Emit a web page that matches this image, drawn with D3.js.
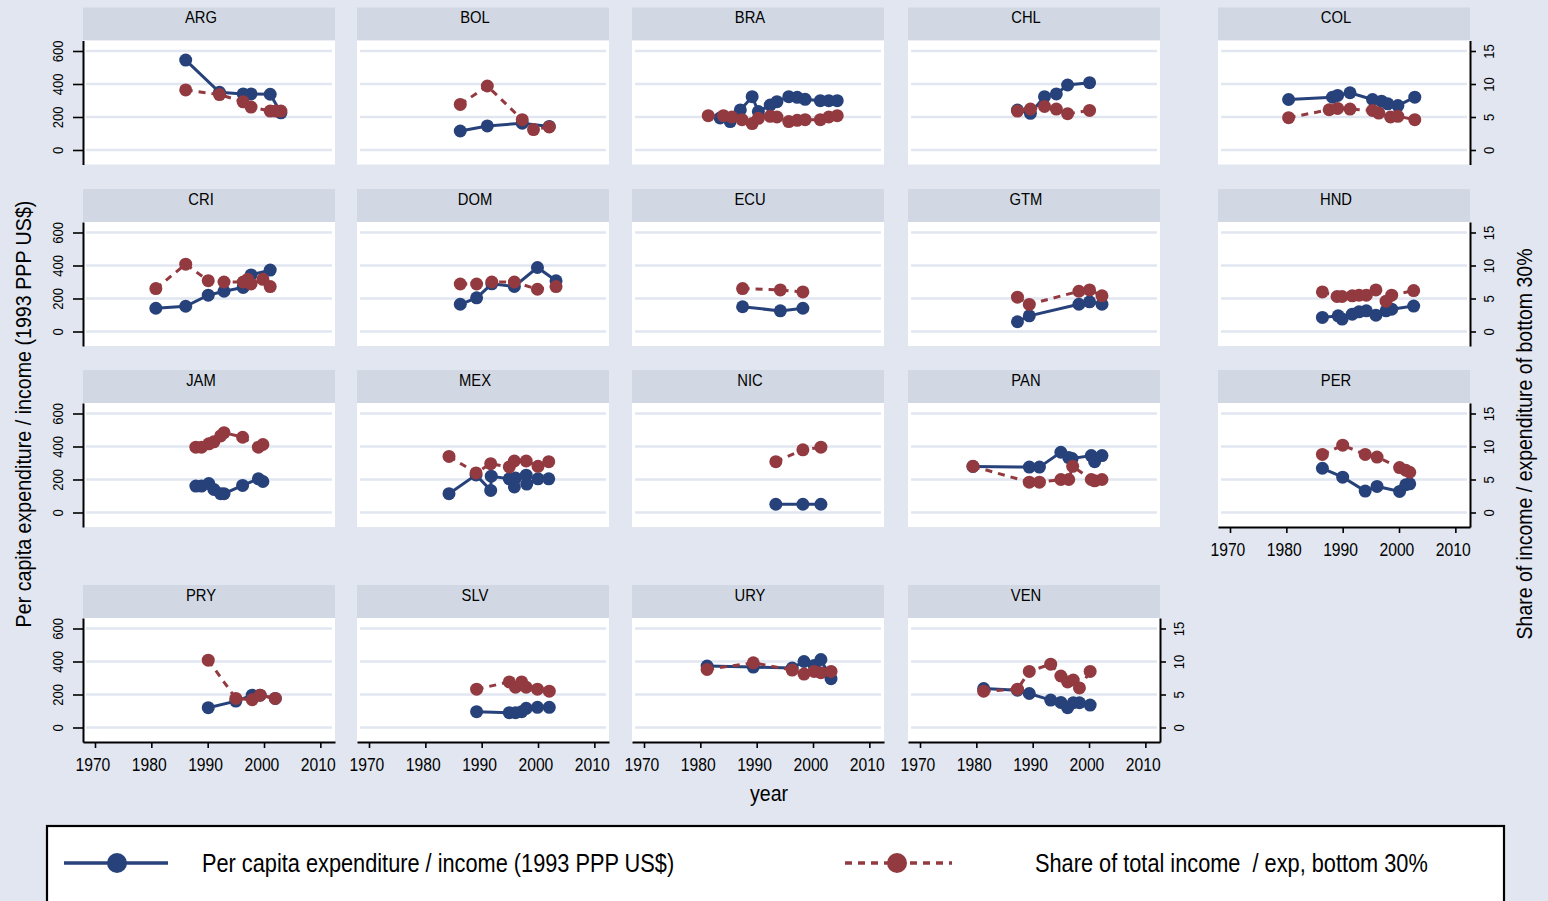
<!DOCTYPE html>
<html>
<head>
<meta charset="utf-8">
<script src="https://cdn.jsdelivr.net/npm/d3@7"></script>
<style>
  html, body { margin: 0; padding: 0; background: #e1e6f0; overflow: hidden; }
  svg { display: block; }
  text { font-family: "Liberation Sans", Arial, Helvetica, sans-serif; fill: #000; }
</style>
</head>
<body>
<svg id="chart"></svg>
<script>
// country panels, in reading order
const countries = ["ARG", "BOL", "BRA", "CHL", "COL", "CRI", "DOM", "ECU", "GTM", "HND",
                   "JAM", "MEX", "NIC", "PAN", "PER", "PRY", "SLV", "URY", "VEN"];

const yearTicks = [1970, 1980, 1990, 2000, 2010];
const incomeTicks = [0, 200, 400, 600];
const shareTicks = [0, 5, 10, 15];

// [year, per capita expenditure / income (1993 PPP US$)]
// [year, share of income / exp, bottom 30% (%)]
const argInc = [[1986.1,545],[1992.1,350],[1996.3,340],[1997.7,340],[2001.1,338],[2003.0,225]];
const argShr = [[1986.1,9.1],[1992.1,8.4],[1996.3,7.3],[1997.7,6.5],[2001.1,5.9],[2002.1,5.9],[2003.0,5.9]];
const bolInc = [[1986.2,115],[1991.0,146],[1997.2,162],[2002.0,143]];
const bolShr = [[1986.2,6.9],[1991.0,9.7],[1997.2,4.6],[1999.2,3.1],[2002.0,3.5]];
const braInc = [[1983.5,194],[1985.3,172],[1987.1,243],[1989.2,323],[1990.3,233],[1992.4,272],[1993.6,293],
                [1995.7,323],[1997.2,319],[1998.6,307],[2001.3,299],[2002.8,299],[2004.3,299]];
const braShr = [[1981.4,5.2],[1984.1,5.2],[1985.6,5.0],[1987.4,4.6],[1989.2,4.0],[1990.3,4.8],[1992.4,5.1],
                [1993.6,5.0],[1995.7,4.3],[1997.2,4.5],[1998.6,4.6],[2001.3,4.6],[2002.8,5.0],[2004.3,5.2]];
const chlInc = [[1987.3,242],[1989.6,222],[1992.1,323],[1994.2,340],[1996.2,394],[2000.1,408]];
const chlShr = [[1987.3,5.9],[1989.6,6.2],[1992.1,6.6],[1994.2,6.2],[1996.2,5.5],[2000.1,6.0]];
const colInc = [[1980.4,306],[1988.2,320],[1989.1,331],[1991.3,347],[1995.3,306],[1996.9,296],[1998.0,280],[1999.8,269],[2002.8,320]];
const colShr = [[1980.4,4.9],[1987.6,6.1],[1989.1,6.3],[1991.3,6.2],[1995.3,6.0],[1996.4,5.6],[1998.5,5.0],[1999.8,5.1],[2002.8,4.6]];
const criInc = [[1980.8,141],[1986.1,153],[1990.1,220],[1992.9,244],[1996.3,267],[1997.7,343],[2001.1,372]];
const criShr = [[1980.8,6.5],[1986.1,10.2],[1990.1,7.7],[1992.9,7.5],[1996.3,7.5],[1997.1,7.9],[1997.7,7.2],[1999.8,7.9],[2001.1,6.8]];
const domInc = [[1986.2,165],[1989.1,204],[1991.8,289],[1995.8,273],[1999.9,388],[2003.2,307]];
const domShr = [[1986.2,7.2],[1989.1,7.2],[1991.8,7.5],[1995.8,7.5],[1999.9,6.4],[2003.2,6.8]];
const ecuInc = [[1987.5,150],[1994.2,125],[1998.2,141]];
const ecuShr = [[1987.5,6.5],[1994.2,6.3],[1998.2,6.0]];
const gtmInc = [[1987.3,59],[1989.4,95],[1998.2,165],[2000.1,180],[2002.3,165]];
const gtmShr = [[1987.3,5.2],[1989.4,4.1],[1998.2,6.1],[2000.1,6.3],[2002.3,5.4]];
const hndInc = [[1986.4,85],[1989.2,95],[1989.9,75],[1991.7,105],[1992.9,119],[1994.2,125],[1995.9,99],[1997.7,125],[1998.7,135],[2002.6,154]];
const hndShr = [[1986.4,6.0],[1989.0,5.3],[1989.9,5.3],[1991.7,5.4],[1992.9,5.5],[1994.2,5.5],[1995.9,6.3],[1997.7,4.6],[1998.7,5.5],[2002.6,6.2]];
const jamInc = [[1987.9,160],[1988.9,160],[1990.2,175],[1991.1,140],[1992.3,114],[1992.9,114],[1996.2,164],[1999.0,204],[1999.8,188]];
const jamShr = [[1987.9,9.9],[1988.9,9.9],[1990.2,10.4],[1991.1,10.7],[1992.3,11.6],[1992.9,12.1],[1996.2,11.4],[1999.0,9.9],[1999.8,10.3]];
const mexInc = [[1984.2,114],[1989.0,228],[1991.6,134],[1991.7,220],[1994.9,204],[1995.8,155],[1996.0,209],[1997.9,226],[1998.0,172],[2000.0,204],[2001.9,204]];
const mexShr = [[1984.2,8.5],[1989.0,6.0],[1991.6,7.4],[1994.9,6.9],[1995.8,7.8],[1997.9,7.8],[2000.0,7.0],[2001.9,7.7]];
const nicInc = [[1993.4,50],[1998.2,50],[2001.4,50]];
const nicShr = [[1993.4,7.7],[1998.2,9.5],[2001.4,9.9]];
const panInc = [[1979.4,279],[1989.4,275],[1991.2,275],[1995.0,365],[1996.4,333],[1997.0,327],[2000.4,345],[2001.0,308],[2002.3,345]];
const panShr = [[1979.4,7.0],[1989.4,4.6],[1991.2,4.6],[1995.0,5.0],[1996.4,5.0],[1997.1,7.0],[2000.4,5.0],[2001.0,4.8],[2002.3,5.0]];
const perInc = [[1986.4,268],[1990.0,214],[1994.0,130],[1996.1,158],[2000.1,128],[2001.2,168],[2001.9,174]];
const perShr = [[1986.4,8.8],[1990.0,10.2],[1994.0,8.8],[1996.1,8.4],[2000.1,6.8],[2001.2,6.4],[2001.9,6.1]];
const pryInc = [[1990.1,120],[1995.0,160],[1997.9,196],[1999.3,196],[2002.0,176]];
const pryShr = [[1990.1,10.2],[1995.0,4.4],[1997.9,4.2],[1999.3,4.9],[2002.0,4.4]];
const slvInc = [[1989.1,96],[1994.9,90],[1996.0,90],[1997.1,96],[1997.9,116],[1999.9,122],[2002.0,122]];
const slvShr = [[1989.1,5.8],[1994.9,6.9],[1996.0,6.1],[1997.1,6.9],[1997.9,6.1],[1999.9,5.8],[2002.0,5.5]];
const uryInc = [[1981.2,372],[1989.4,366],[1996.3,360],[1998.4,400],[2000.2,376],[2001.4,412],[2003.2,296]];
const uryShr = [[1981.2,8.8],[1989.4,9.8],[1996.3,8.7],[1998.4,8.1],[2000.2,8.5],[2001.4,8.3],[2003.2,8.5]];
const venInc = [[1981.3,236],[1987.3,226],[1989.4,206],[1993.2,166],[1995.0,152],[1996.2,120],[1997.2,150],[1998.3,150],[2000.2,136]];
const venShr = [[1981.3,5.5],[1987.3,5.8],[1989.4,8.5],[1993.2,9.6],[1995.0,7.8],[1996.2,6.9],[1997.2,7.2],[1998.3,6.0],[2000.2,8.5]];

const incomeByCountry = [argInc, bolInc, braInc, chlInc, colInc, criInc, domInc, ecuInc, gtmInc, hndInc,
                         jamInc, mexInc, nicInc, panInc, perInc, pryInc, slvInc, uryInc, venInc];
const shareByCountry = [argShr, bolShr, braShr, chlShr, colShr, criShr, domShr, ecuShr, gtmShr, hndShr,
                        jamShr, mexShr, nicShr, panShr, perShr, pryShr, slvShr, uryShr, venShr];

const legendLabels = ["Per capita expenditure / income (1993 PPP US$)", "Share of total income  / exp, bottom 30%"];

// ---- look ----
const BG = "#e1e6f0", STRIP = "#d1d8e3", GRID = "#e1e6f0";
const BLUE = "#27427a", RED = "#923a40";
const NARROW = 0.87;

const colX = [83, 357, 632, 908, 1218];
const rowTop = [7.5, 189, 370, 585];
const panelW = 252, stripH = 33, plotH = 124;

const svg = d3.select("#chart").attr("width", 1548).attr("height", 901);
svg.append("rect").attr("width", 1548).attr("height", 901).attr("fill", BG);

function label(g, x, y, str, size, anchor, rotate) {
    return g.append("text")
        .attr("transform", `translate(${x},${y})${rotate ? " rotate(-90)" : ""} scale(${NARROW},1)`)
        .attr("text-anchor", anchor)
        .attr("font-size", size)
        .style("white-space", "pre")
        .text(str);
}

const x = d3.scaleLinear().domain([1967.87, 2012.6]).range([0, panelW]);
const yL = d3.scaleLinear().domain([-87.9, 663.6]).range([plotH, 0]);
const yR = d3.scaleLinear().domain([-87.9 / 40, 663.6 / 40]).range([plotH, 0]);

const lineInc = d3.line().x(d => x(d[0])).y(d => yL(d[1]));
const lineShr = d3.line().x(d => x(d[0])).y(d => yR(d[1]));

function styleAxis(g) {
    g.attr("font-size", null).attr("font-family", null);
    g.select(".domain").attr("stroke", "#000").attr("stroke-width", 2);
    g.selectAll(".tick line").attr("stroke", "#000").attr("stroke-width", 1.6);
}

countries.forEach((name, i) => {
    const row = Math.floor(i / 5), col = i % 5;
    const g = svg.append("g").attr("transform", `translate(${colX[col]},${rowTop[row]})`);

    g.append("rect").attr("width", panelW).attr("height", stripH).attr("fill", STRIP);
    label(g, panelW / 2 - 8, 15.5, name, 17, "middle");

    const pg = g.append("g").attr("transform", `translate(0,${stripH})`);
    pg.append("rect").attr("width", panelW).attr("height", plotH).attr("fill", "#fff");

    pg.selectAll("line.grid").data(incomeTicks).join("line")
        .attr("class", "grid")
        .attr("x1", 3).attr("x2", panelW - 3)
        .attr("y1", d => yL(d)).attr("y2", d => yL(d))
        .attr("stroke", GRID).attr("stroke-width", 2.6);

    if (col === 0) {
        const ax = pg.append("g")
            .call(d3.axisLeft(yL).tickValues(incomeTicks).tickSize(10).tickSizeOuter(0));
        styleAxis(ax);
        ax.selectAll(".tick text")
            .attr("x", 0).attr("y", -20).attr("dy", null)
            .attr("text-anchor", "middle").attr("font-size", 15)
            .attr("transform", `rotate(-90) scale(${NARROW},1)`);
    }
    if (col === 4 || name === "VEN") {
        const ax = pg.append("g").attr("transform", `translate(${panelW},0)`)
            .call(d3.axisRight(yR).tickValues(shareTicks).tickSize(6).tickSizeOuter(0));
        styleAxis(ax);
        ax.selectAll(".tick text")
            .attr("x", 0).attr("y", 24).attr("dy", null)
            .attr("text-anchor", "middle").attr("font-size", 15)
            .attr("transform", `rotate(-90) scale(${NARROW},1)`);
    }
    if (row === 3 || name === "PER") {
        const ax = pg.append("g").attr("transform", `translate(0,${plotH})`)
            .call(d3.axisBottom(x).tickValues(yearTicks).tickFormat(d3.format("d")).tickSize(6).tickSizeOuter(0));
        styleAxis(ax);
        ax.selectAll(".tick text")
            .attr("x", -3).attr("y", 29).attr("dy", null).attr("font-size", 18)
            .attr("transform", `scale(${NARROW},1)`);
    }

    const inc = incomeByCountry[i], shr = shareByCountry[i];

    pg.append("path").datum(inc).attr("d", lineInc)
        .attr("fill", "none").attr("stroke", BLUE).attr("stroke-width", 3);
    pg.selectAll("circle.inc").data(inc).join("circle")
        .attr("class", "inc")
        .attr("cx", d => x(d[0])).attr("cy", d => yL(d[1])).attr("r", 6.5)
        .attr("fill", BLUE);

    pg.append("path").datum(shr).attr("d", lineShr)
        .attr("fill", "none").attr("stroke", RED).attr("stroke-width", 3)
        .attr("stroke-dasharray", "7,6");
    pg.selectAll("circle.shr").data(shr).join("circle")
        .attr("class", "shr")
        .attr("cx", d => x(d[0])).attr("cy", d => yR(d[1])).attr("r", 6.5)
        .attr("fill", RED);
});

// axis titles
label(svg, 31, 414, "Per capita expenditure / income (1993 PPP US$)", 22.6, "middle", true);
label(svg, 1532, 444, "Share of income / expenditure of bottom 30%", 22.4, "middle", true);
label(svg, 769, 801, "year", 22.5, "middle");

// legend
const lg = svg.append("g");
lg.append("rect").attr("x", 47).attr("y", 826).attr("width", 1457).attr("height", 100)
    .attr("fill", "#fff").attr("stroke", "#000").attr("stroke-width", 2.2);

lg.append("line").attr("x1", 64).attr("x2", 168).attr("y1", 863).attr("y2", 863)
    .attr("stroke", BLUE).attr("stroke-width", 3.5);
lg.append("circle").attr("cx", 117).attr("cy", 863).attr("r", 10).attr("fill", BLUE);
label(lg, 202, 872, legendLabels[0], 25, "start");

lg.append("line").attr("x1", 845).attr("x2", 952).attr("y1", 863).attr("y2", 863)
    .attr("stroke", RED).attr("stroke-width", 3.5).attr("stroke-dasharray", "7,6");
lg.append("circle").attr("cx", 897).attr("cy", 863).attr("r", 10).attr("fill", RED);
label(lg, 1035, 872, legendLabels[1], 25, "start");
</script>
</body>
</html>
